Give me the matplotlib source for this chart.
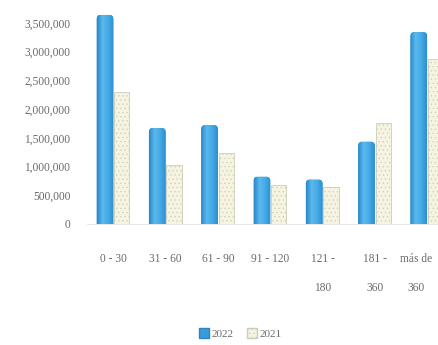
import numpy as np
import matplotlib
matplotlib.use('Agg')
import matplotlib.pyplot as plt
from matplotlib.patches import FancyBboxPatch, Patch
from matplotlib.colors import LinearSegmentedColormap
from matplotlib.transforms import ScaledTranslation

# ── Data ──────────────────────────────────────────────────────────────────────
CATEGORIES = ['0 - 30', '31 - 60', '61 - 90', '91 - 120', '121 -\n180', '181 -\n360', 'más de\n360']
VALUES_2022 = [3640000, 1670000, 1720000, 820000, 770000, 1430000, 3340000]
VALUES_2021 = [2300000, 1030000, 1240000, 680000, 640000, 1760000, 2870000]
YTICKS = [0, 500000, 1000000, 1500000, 2000000, 2500000, 3000000, 3500000]

BLUE_CMAP = LinearSegmentedColormap.from_list(
    'bar_blue', ['#2a88ca', '#5ab9ee', '#46aae5', '#2d8ed0'])
CREAM = '#f6f3e0'
CREAM_EDGE = '#c9cfba'
TEXT = '#6a6a6a'

plt.rcParams['font.family'] = ['Liberation Serif', 'DejaVu Serif']
plt.rcParams['hatch.linewidth'] = 0.4

fig = plt.figure(figsize=(4.38, 3.45), dpi=100)
ax = fig.add_axes([0.199, 0.351, 0.836, 0.649])

x = np.arange(len(CATEGORIES))
w = 0.32
ymax = 3900000

# rounded-top blue bars with a horizontal shading, base pushed below zero
# so only the top corners show rounding
rad_x = 0.07
aspect = 75000 / rad_x
grad = np.linspace(0, 1, 64).reshape(1, -1)
for xi, v in zip(x, VALUES_2022):
    left = xi - w
    patch = FancyBboxPatch((left + rad_x, -200000 + rad_x * aspect),
                           w - 2 * rad_x, v + 200000 - 2 * rad_x * aspect,
                           boxstyle=f'round,pad={rad_x}',
                           mutation_aspect=aspect,
                           facecolor='#3fa2df', edgecolor='none', zorder=2)
    ax.add_patch(patch)
    im = ax.imshow(grad, cmap=BLUE_CMAP, aspect='auto',
                   extent=(left, left + w, -200000, v), zorder=3)
    im.set_clip_path(patch)

ax.bar(x + w / 2, VALUES_2021, width=w * 0.92, color=CREAM,
       edgecolor=CREAM_EDGE, linewidth=0.6, hatch='....', zorder=2)

ax.set_xlim(-0.5, len(CATEGORIES) - 0.5)
ax.set_ylim(0, ymax)

ax.set_yticks(YTICKS)
ax.set_yticklabels([f'{t:,}' for t in YTICKS])
ax.set_xticks(x)
ax.set_xticklabels(CATEGORIES, linespacing=2.9, va='top')
ax.tick_params(axis='y', length=0, pad=12, labelsize=8.3, labelcolor=TEXT)
ax.tick_params(axis='x', length=0, pad=21, labelsize=8.3, labelcolor=TEXT)

# last label sits at the right edge; pull it in a little
last = ax.get_xticklabels()[-1]
last.set_transform(last.get_transform() + ScaledTranslation(-8 / 72, 0, fig.dpi_scale_trans))

for s in ['top', 'right', 'left']:
    ax.spines[s].set_visible(False)
ax.spines['bottom'].set_color('#e4e4e4')
ax.spines['bottom'].set_linewidth(0.6)

handles = [Patch(facecolor='#3a9bdc', edgecolor='#2a86c8', label='2022'),
           Patch(facecolor=CREAM, edgecolor=CREAM_EDGE, hatch='....', label='2021')]
fig.legend(handles=handles, loc='center', bbox_to_anchor=(0.548, 0.033),
           ncol=2, frameon=False, fontsize=8, labelcolor=TEXT,
           handlelength=0.9, handleheight=0.9, handletextpad=0.25,
           columnspacing=1.2)

fig.savefig('out.png', dpi=100)
